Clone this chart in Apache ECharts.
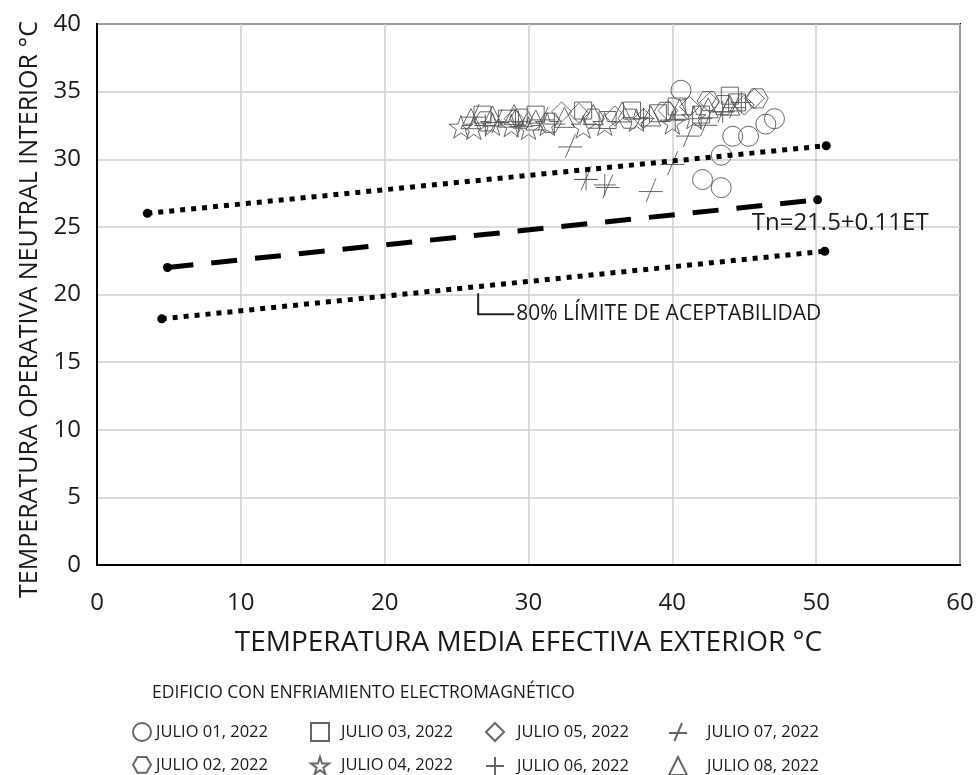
<!DOCTYPE html>
<html><head><meta charset="utf-8">
<script src="https://cdn.jsdelivr.net/npm/echarts@6/dist/echarts.min.js"></script>
<style>html,body{margin:0;padding:0;background:#fff}#c{width:977px;height:775px}</style>
</head><body><div id="c"></div>
<script>
const xTicks = [0, 10, 20, 30, 40, 50, 60];
const yTicks = [0, 5, 10, 15, 20, 25, 30, 35, 40];

const seriesNames = ['JULIO 01, 2022','JULIO 02, 2022','JULIO 03, 2022','JULIO 04, 2022','JULIO 05, 2022','JULIO 06, 2022','JULIO 07, 2022','JULIO 08, 2022'];

const julio01 = [[40.6,35.1],[42.1,28.5],[43.4,27.9],[43.4,30.3],[44.2,31.7],[45.3,31.7],[46.5,32.6],[47.1,33.0]];
const julio02 = [[27.0,32.8],[29.5,33.0],[31.5,32.7],[34.5,33.0],[37.0,33.0],[39.5,33.5],[42.5,34.3],[43.5,34.0],[45.9,34.5]];
const julio03 = [[26.8,33.3],[28.5,33.0],[30.5,33.3],[33.8,33.6],[35.5,32.9],[37.2,33.6],[39.0,33.4],[40.3,33.9],[42.0,33.3],[44.0,34.7],[44.5,34.2]];
const julio04 = [[25.3,32.4],[26.2,32.3],[27.5,32.6],[28.8,32.5],[30.0,32.3],[31.3,32.6],[33.8,32.4],[35.3,32.6],[37.5,32.9],[40.0,32.7],[41.5,33.1]];
const julio05 = [[29.0,33.0],[32.3,33.5],[33.5,33.4],[36.0,33.2],[38.0,33.0],[39.7,33.6],[41.2,33.9],[42.6,34.2],[45.0,34.0],[45.7,34.5]];
const julio06 = [[27.0,32.5],[29.3,32.8],[31.8,32.6],[34.0,28.5],[35.3,28.1],[38.0,33.0],[40.2,32.9],[42.0,33.0],[43.5,33.5],[44.8,34.2]];
const julio07 = [[26.2,33.2],[27.8,32.8],[29.5,32.5],[31.0,33.0],[32.9,31.0],[34.0,28.6],[35.5,28.0],[38.5,27.7],[40.0,29.7],[41.1,31.8],[42.3,32.6],[43.5,33.6],[44.3,33.9]];
const julio08 = [[26.0,33.0],[27.5,33.2],[29.0,33.3],[30.5,32.9],[32.5,33.1],[34.5,33.3],[36.5,33.5],[38.5,33.2],[40.5,33.7],[42.5,33.8],[44.0,34.0]];

const upperLimit = [[3.5,26.0],[50.7,31.0]];
const neutralLine = [[4.9,22.0],[50.1,27.0]];
const lowerLimit = [[4.5,18.2],[50.6,23.2]];

const legendTitle = 'EDIFICIO CON ENFRIAMIENTO ELECTROMAGNÉTICO';
const eqLabel = 'Tn=21.5+0.11ET';
const limitLabel = '80% LÍMITE DE ACEPTABILIDAD';

const FONT = 'Open Sans';
const TXT = '#1a1a1a';
const MK = '#555';
const symbols = [
  'circle',
  'path://M25,0L75,0L100,43L75,87L25,87L0,43Z',
  'rect',
  'path://M50,0L61,35L98,35L68,57L79,91L50,70L21,91L32,57L2,35L39,35Z',
  'path://M50,0L100,50L50,100L0,50Z',
  'path://M0,50L100,50M50,0L50,100',
  'path://M0,55L100,55M30,100L72,0',
  'triangle'
];
const sizes = [20, 22, 17, 24, 20, 22, 24, 20];
const datasets = [julio01, julio02, julio03, julio04, julio05, julio06, julio07, julio08];

const scatterSeries = datasets.map((d, i) => ({
  name: seriesNames[i],
  type: 'scatter',
  data: d,
  symbol: symbols[i],
  symbolSize: sizes[i],
  symbolKeepAspect: true,
  itemStyle: { color: 'rgba(0,0,0,0)', borderColor: MK, borderWidth: 1, opacity: 0.9 },
  z: 3
}));

function lineSeries(name, data, type) {
  return {
    name: name, type: 'line', data: data,
    symbol: 'circle', symbolSize: 9, showSymbol: true,
    itemStyle: { color: '#000' },
    lineStyle: { color: '#000', width: 5, type: type, cap: 'butt' },
    silent: true, z: 4
  };
}

const chart = echarts.init(document.getElementById('c'));
const legendCols = [[0,1],[2,3],[4,5],[6,7]];
const legendLeft = [132, 310, 485, 668];
const legendPad = [0, 7, 8, 15];
const legends = legendCols.map((c, k) => ({
  orient: 'vertical',
  left: legendLeft[k], top: 722, padding: 0,
  height: 60,
  itemGap: 14, itemWidth: 18, itemHeight: 18,
  data: c.map(i => seriesNames[i]),
  textStyle: { fontFamily: FONT, fontSize: 16.5, color: TXT, padding: [0,0,0, legendPad[k]] },
  selectedMode: false
}));

chart.setOption({
  animation: false,
  backgroundColor: '#fff',
  grid: { left: 97, right: 17, top: 24, bottom: 210, show: true, borderColor: '#000', borderWidth: 2 },
  xAxis: {
    type: 'value', min: 0, max: 60, interval: 10,
    name: 'TEMPERATURA MEDIA EFECTIVA EXTERIOR °C', nameLocation: 'middle', nameGap: 64,
    nameTextStyle: { fontFamily: FONT, fontSize: 28, color: TXT },
    axisLine: { show: true, lineStyle: { color: '#000', width: 2 } },
    axisTick: { show: false },
    axisLabel: { fontFamily: FONT, fontSize: 24, color: TXT, margin: 26,
      formatter: v => xTicks.includes(v) ? String(v) : '' },
    splitLine: { show: true, lineStyle: { color: '#cfcfcf', width: 1.5 } }
  },
  yAxis: {
    type: 'value', min: 0, max: 40, interval: 5,
    name: 'TEMPERATURA OPERATIVA NEUTRAL INTERIOR °C', nameLocation: 'middle', nameGap: 54,
    nameTextStyle: { fontFamily: FONT, fontSize: 25, color: TXT, padding: [0, 30, 0, 0] },
    axisLine: { show: true, lineStyle: { color: '#000', width: 2 } },
    axisTick: { show: false },
    axisLabel: { fontFamily: FONT, fontSize: 24, color: TXT, margin: 16,
      formatter: v => yTicks.includes(v) ? String(v) : '' },
    splitLine: { show: true, lineStyle: { color: '#cfcfcf', width: 1.5 } }
  },
  legend: legends,
  series: scatterSeries.concat([
    lineSeries('upper', upperLimit, [5, 6]),
    lineSeries('neutral', neutralLine, [26, 18]),
    lineSeries('lower', lowerLimit, [5, 6])
  ])
});

const p1 = chart.convertToPixel({ gridIndex: 0 }, [50.0, 25.3]);
const p2 = chart.convertToPixel({ gridIndex: 0 }, [26.5, 20.1]);
chart.setOption({
  graphic: [
    { type: 'text', left: 152, top: 684, style: { text: legendTitle, fontFamily: FONT, fontSize: 17.5, fill: TXT } },
    { type: 'text', x: p1[0] + 24, y: p1[1], style: { text: eqLabel, fontFamily: FONT, fontSize: 24, fill: TXT, textAlign: 'center', textVerticalAlign: 'middle' } },
    { type: 'polyline', shape: { points: [[p2[0], p2[1]], [p2[0], p2[1] + 21], [p2[0] + 36, p2[1] + 21]] }, style: { stroke: '#222', lineWidth: 2, fill: null } },
    { type: 'text', x: p2[0] + 38, y: p2[1] + 21, style: { text: limitLabel, fontFamily: FONT, fontSize: 21, fill: TXT, textVerticalAlign: 'middle' } }
  ]
});
</script></body></html>
